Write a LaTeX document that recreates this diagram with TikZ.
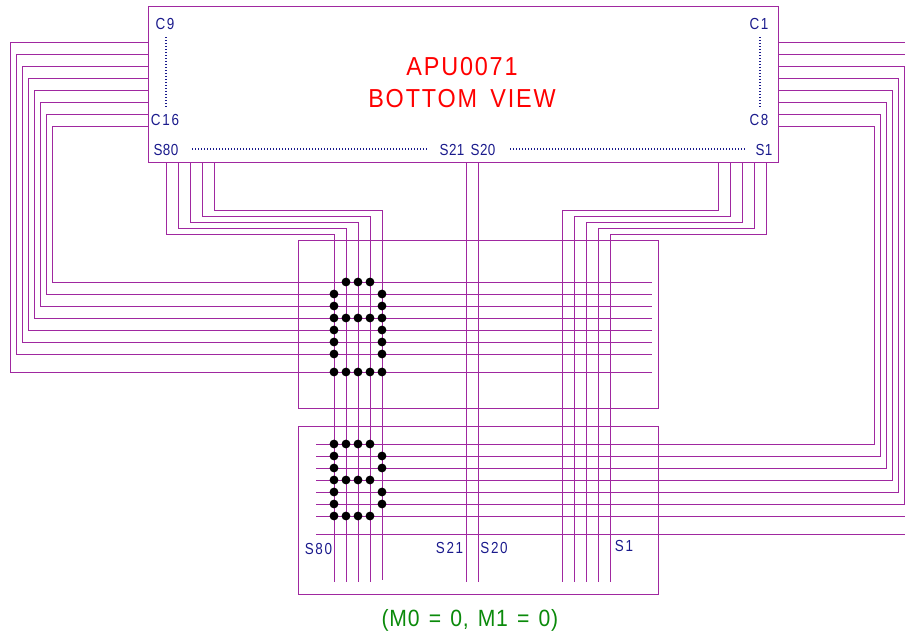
\documentclass[tikz,border=0pt]{standalone}
\usepackage{fontspec}
\setmainfont{Liberation Sans}
\newfontfamily\pinfont[LetterSpace=11,FakeStretch=0.84]{Liberation Sans}
\newfontfamily\spinfont[LetterSpace=2,FakeStretch=0.84]{Liberation Sans}
\newfontfamily\titlefont[LetterSpace=7,WordSpace=1.6,FakeStretch=0.9]{Liberation Sans}
\newfontfamily\modefont[LetterSpace=3,WordSpace=1.4,FakeStretch=0.9]{Liberation Sans}
\definecolor{wirecol}{HTML}{A028A0}
\definecolor{pincol}{HTML}{1A1A8C}
\definecolor{modecol}{HTML}{0A8A0A}

\begin{document}
\begin{tikzpicture}[x=1pt,y=-1pt,
	wire/.style={draw=wirecol,line width=1pt},
	box/.style={draw=wirecol,line width=1pt,anchor=north west,inner sep=0pt,outer sep=0pt},
	pin/.style={text=pincol,inner sep=0pt,font=\pinfont\fontsize{16}{19}\selectfont},
	spin/.style={text=pincol,inner sep=0pt,font=\spinfont\fontsize{16}{19}\selectfont},
	heading/.style={text=red,inner sep=0pt,font=\titlefont\fontsize{26}{30}\selectfont},
	pindots/.style={draw=pincol,line width=1.2pt,dash pattern=on 1.2pt off 1.8pt}]
			\useasboundingbox (0,0) rectangle (905,637);
			\node (chip) [box,minimum width=630pt,minimum height=156pt] at (148,6) {};
			\node (upper) [box,minimum width=360pt,minimum height=168pt] at (298,240) {};
			\node (lower) [box,minimum width=360pt,minimum height=168pt] at (298,426) {};
			\foreach \y/\x/\r in {42/10/372,54/16/354,66/22/342,78/28/330,90/34/318,102/40/306,114/46/294,126/52/282} {
				\coordinate (cpin) at (148,\y);
				\coordinate (cend) at (652,\r);
				\draw[wire] (cpin) -| (\x,\r) -- (cend);
			}
			\foreach \y/\x/\r in {66/904/504,78/898/492,90/892/480,102/886/468,114/880/456,126/874/444} {
				\coordinate (cpin) at (778,\y);
				\coordinate (cend) at (316,\r);
				\draw[wire] (cpin) -| (\x,\r) -- (cend);
			}
			\foreach \y in {42,54} {
				\coordinate (cpin) at (778,\y);
				\coordinate (cend) at (905,\y);
				\draw[wire] (cpin) -- (cend);
			}
			\foreach \y in {516,534} {
				\coordinate (cstart) at (316,\y);
				\coordinate (cend) at (905,\y);
				\draw[wire] (cstart) -- (cend);
			}
			\foreach \x/\y/\r/\e in {166/234/334/582,178/228/346/582,190/222/358/582,202/216/370/582,214/210/382/580,
				718/210/562/582,730/216/574/582,742/222/586/582,754/228/598/582,766/234/610/582} {
				\coordinate (spin) at (\x,162);
				\coordinate (send) at (\r,\e);
				\draw[wire] (spin) |- (\r,\y) -- (send);
			}
			\foreach \x in {466,478} {
				\coordinate (spin) at (\x,162);
				\coordinate (send) at (\x,582);
				\draw[wire] (spin) -- (send);
			}
			\foreach \y in {318,372} {
				\foreach \x in {334,346,358,370,382} {
					\fill (\x,\y) circle (4.4);
				}
			}
			\foreach \y in {294,306,330,342,354,456,468,492,504} {
				\fill (334,\y) circle (4.4);
				\fill (382,\y) circle (4.4);
			}
			\foreach \y in {444,480,516} {
				\foreach \x in {334,346,358,370} {
					\fill (\x,\y) circle (4.4);
				}
			}
			\foreach \x in {346,358,370} {
				\fill (\x,282) circle (4.4);
			}
			\node (cnine) [pin] at (165,24) {C9};
			\node (csixteen) [pin] at (165,120) {C16};
			\node (cone) [pin] at (759,24) {C1};
			\node (ceight) [pin] at (759,120) {C8};
			\node (seighty) [spin] at (166,150) {S80};
			\node (sone) [spin] at (764,150) {S1};
			\node (stwentyone) [spin] at (452,150) {S21};
			\node (stwenty) [spin] at (483,150) {S20};
			\node (lseighty) [pin] at (318.5,549) {S80};
			\node (lstwentyone) [pin] at (449.5,548) {S21};
			\node (lstwenty) [pin] at (494,548) {S20};
			\node (lsone) [pin] at (624,546) {S1};
			\node (partname) [heading] at (462,67) {APU0071};
			\node (viewname) [heading] at (462,98.5) {BOTTOM VIEW};
			\node (mode) [inner sep=0pt,text=modecol,font=\modefont\fontsize{23.5}{27}\selectfont] at (470,620.5) {(M0 = 0, M1 = 0)};
			\coordinate (cnineb) at (166,37);
			\coordinate (csixteent) at (166,107);
			\coordinate (coneb) at (760,37);
			\coordinate (ceightt) at (760,107);
			\coordinate (seightyr) at (192,149);
			\coordinate (stwentyonel) at (427,149);
			\coordinate (stwentyr) at (510,149);
			\coordinate (sonel) at (745,149);
			\draw[pindots] (cnineb) -- (csixteent);
			\draw[pindots] (coneb) -- (ceightt);
			\draw[pindots] (seightyr) -- (stwentyonel);
			\draw[pindots] (stwentyr) -- (sonel);
		\end{tikzpicture}
\end{document}
